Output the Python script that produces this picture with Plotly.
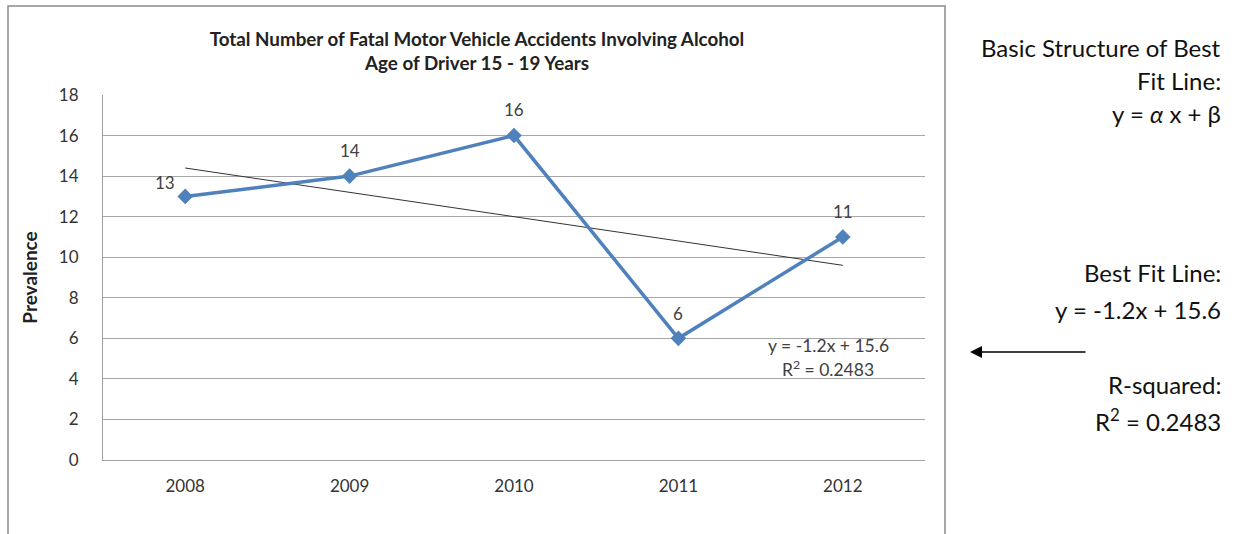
import numpy as np
import plotly.graph_objects as go

years = [2008, 2009, 2010, 2011, 2012]
prevalence = [13, 14, 16, 6, 11]
y_ticks = [0, 2, 4, 6, 8, 10, 12, 14, 16, 18]

# label offsets (px) for the data labels, same order as the points
label_dx = [-20, 0, 0, 0, 0]
label_dy = [14, 26, 26, 25, 25]

# Excel-style linear trendline, x = 1..n
idx = np.arange(1, len(years) + 1)
slope, intercept = np.polyfit(idx, prevalence, 1)
fitted = slope * idx + intercept
ss_res = np.sum((np.array(prevalence) - fitted) ** 2)
ss_tot = np.sum((np.array(prevalence) - np.mean(prevalence)) ** 2)
r2 = 1 - ss_res / ss_tot
eq_text = f"y = {slope:.1f}x + {intercept:.1f}"
r2_text = f"R<sup>2</sup> = {r2:.4f}"

FONT = "Lato"
L, R, T, B = 103, 310, 95, 74
W, H = 1235, 534
PW, PH = W - L - R, H - T - B


def px_x(px):
    return (px - L) / PW


def px_y(py):
    return (H - B - py) / PH


fig = go.Figure()
fig.add_trace(go.Scatter(
    x=years, y=fitted, mode="lines",
    line=dict(color="#333333", width=1), hoverinfo="skip", showlegend=False))
fig.add_trace(go.Scatter(
    x=years, y=prevalence, mode="lines+markers",
    line=dict(color="#4F81BD", width=3.5),
    marker=dict(symbol="diamond", size=12, color="#4F81BD"),
    showlegend=False))

for yr, v, dx, dy in zip(years, prevalence, label_dx, label_dy):
    fig.add_annotation(x=yr, y=v, text=str(v), showarrow=False,
                       xanchor="center", yanchor="middle",
                       xshift=dx, yshift=dy,
                       font=dict(family=FONT, size=17, color="#404040"))

for txt, py in [(eq_text, 345), (r2_text, 368)]:
    fig.add_annotation(x=px_x(828), y=px_y(py), xref="paper", yref="paper",
                       text=txt, showarrow=False,
                       xanchor="center", yanchor="middle",
                       font=dict(family=FONT, size=17.5, color="#404040"))

side = [
    ("Basic Structure of Best", 47),
    ("Fit Line:", 80),
    ("y = <i>α</i> x + β", 113),
    ("Best Fit Line:", 272),
    ("y = " + f"{slope:.1f}x + {intercept:.1f}", 309),
    ("R-squared:", 384),
    (f"R<sup>2</sup> = {r2:.4f}", 420),
]
for txt, py in side:
    fig.add_annotation(x=px_x(1223), y=px_y(py), xref="paper", yref="paper",
                       text=txt, showarrow=False,
                       xanchor="right", yanchor="middle",
                       font=dict(family=FONT, size=24, color="#111111"))

# arrow pointing at the trendline equation
fig.add_annotation(x=px_x(970), y=px_y(352), xref="paper", yref="paper",
                   ax=117, ay=0, axref="pixel", ayref="pixel", text="",
                   showarrow=True, arrowhead=2, arrowsize=1.6, arrowwidth=1.5,
                   arrowcolor="#000000")

# chart box border (left, top, right)
fig.add_shape(type="path",
              path=f"M {px_x(8)},{px_y(540)} L {px_x(8)},{px_y(6)} "
                   f"L {px_x(945)},{px_y(6)} L {px_x(945)},{px_y(540)}",
              xref="paper", yref="paper",
              line=dict(color="#8c8c8c", width=1.5))

fig.update_layout(
    width=W, height=H,
    margin=dict(l=L, r=R, t=T, b=B),
    paper_bgcolor="white", plot_bgcolor="white",
    font=dict(family=FONT, color="#333333"),
    title=dict(
        text="<b>Total Number of Fatal Motor Vehicle Accidents Involving Alcohol"
             "<br>Age of Driver 15 - 19 Years</b>",
        x=px_x(477), xref="paper", xanchor="center",
        y=1 - 46 / H, yanchor="middle",
        font=dict(family=FONT, size=18.8, color="#222222")),
)
fig.update_xaxes(
    tickvals=years, ticktext=[str(y) for y in years],
    range=[years[0] - 0.5, years[-1] + 0.5],
    showgrid=False, zeroline=False,
    showline=True, linecolor="#a0a0a0", linewidth=1,
    ticks="", ticklabelstandoff=11,
    tickfont=dict(family=FONT, size=17, color="#333333"))
fig.update_yaxes(
    tickvals=y_ticks, range=[0, 18],
    showgrid=True, gridcolor="#a6a6a6", gridwidth=1,
    zeroline=False, showline=True, linecolor="#a0a0a0", linewidth=1,
    ticks="", ticklabelstandoff=20,
    tickfont=dict(family=FONT, size=17, color="#333333"),
    title=dict(text="<b>Prevalence</b>", standoff=16,
               font=dict(family=FONT, size=19, color="#222222")))

# drop the default page margin so the figure sits at the window origin
fig.write_html("out.html", config={"displayModeBar": False},
               post_script="document.body.style.margin='0';")
